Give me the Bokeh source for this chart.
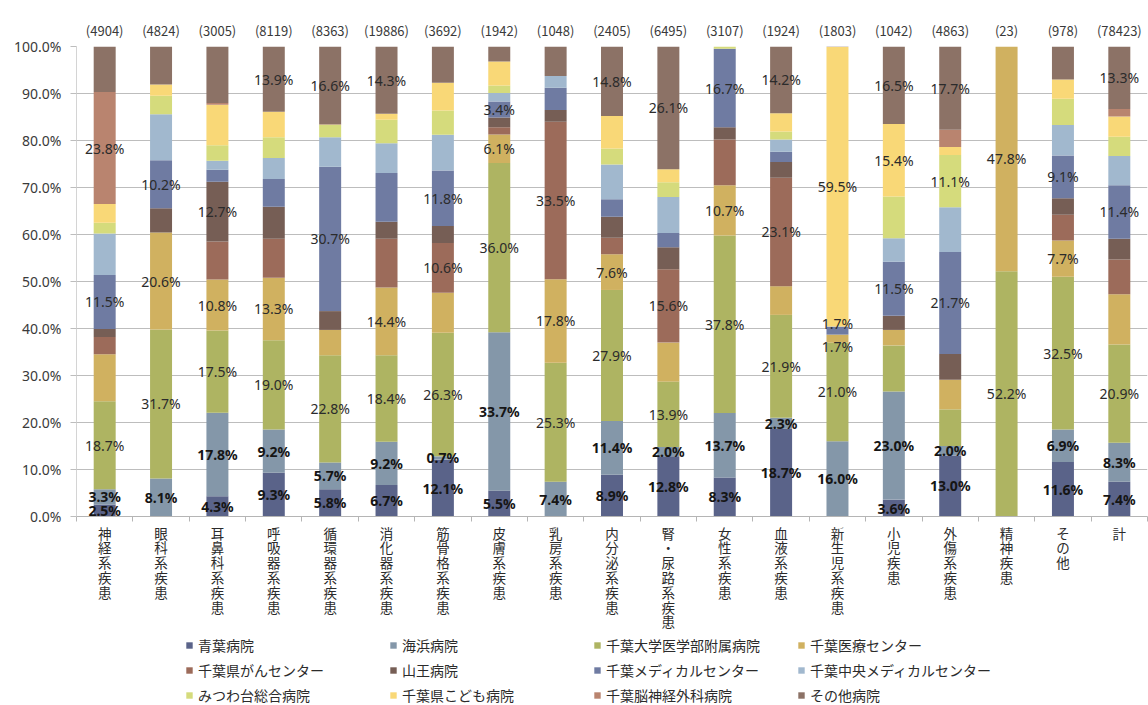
from bokeh.plotting import figure
from bokeh.layouts import column
from bokeh.models import (ColumnDataSource, Legend, LegendItem, FixedTicker, LinearAxis,
                          PrintfTickFormatter, Range1d)
from bokeh.core.properties import value
from bokeh.embed import file_html
from bokeh.resources import INLINE

# ---------------- data ----------------
categories = ["神経系疾患", "眼科系疾患", "耳鼻科系疾患", "呼吸器系疾患", "循環器系疾患",
              "消化器系疾患", "筋骨格系疾患", "皮膚系疾患", "乳房系疾患", "内分泌系疾患",
              "腎・尿路系疾患", "女性系疾患", "血液系疾患", "新生児系疾患", "小児疾患",
              "外傷系疾患", "精神疾患", "その他", "計"]
counts = [4904, 4824, 3005, 8119, 8363, 19886, 3692, 1942, 1048, 2405,
          6495, 3107, 1924, 1803, 1042, 4863, 23, 978, 78423]

hospitals = ["青葉病院", "海浜病院", "千葉大学医学部附属病院", "千葉医療センター",
             "千葉県がんセンター", "山王病院", "千葉メディカルセンター", "千葉中央メディカルセンター",
             "みつわ台総合病院", "千葉県こども病院", "千葉脳神経外科病院", "その他病院"]
colors = ["#5a6389", "#8497a9", "#aeb462", "#d0b160", "#9c6b5a", "#765e55",
          "#6f7ba2", "#a1b8ce", "#d5db7c", "#f9d877", "#b9846f", "#8c7266"]

aoba    = [2.5, 0.0, 4.3, 9.3, 5.8, 6.7, 12.1, 5.5, 0.0, 8.9, 12.8, 8.3, 18.7, 0.0, 3.6, 13.0, 0.0, 11.6, 7.4]
kaihin  = [3.3, 8.1, 17.8, 9.2, 5.7, 9.2, 0.7, 33.7, 7.4, 11.4, 2.0, 13.7, 2.3, 16.0, 23.0, 2.0, 0.0, 6.9, 8.3]
chibadai = [18.7, 31.7, 17.5, 19.0, 22.8, 18.4, 26.3, 36.0, 25.3, 27.9, 13.9, 37.8, 21.9, 21.0, 9.8, 7.8, 52.2, 32.5, 20.9]
iryo    = [10.0, 20.6, 10.8, 13.3, 5.4, 14.4, 8.5, 6.1, 17.8, 7.6, 8.3, 10.7, 6.1, 1.7, 3.3, 6.3, 47.8, 7.7, 10.7]
gan     = [3.7, 0.0, 8.1, 8.3, 0.0, 10.4, 10.6, 1.5, 33.5, 3.5, 15.6, 9.7, 23.1, 0.0, 0.0, 0.0, 0.0, 5.5, 7.4]
sanno   = [1.7, 5.2, 12.7, 6.8, 4.0, 3.6, 3.6, 2.1, 2.5, 4.5, 4.7, 2.6, 3.3, 0.0, 3.0, 5.5, 0.0, 3.5, 4.4]
medical = [11.5, 10.2, 2.6, 5.9, 30.7, 10.4, 11.8, 3.4, 4.7, 3.7, 3.0, 16.7, 2.2, 1.7, 11.5, 21.7, 0.0, 9.1, 11.4]
chuo    = [8.8, 9.8, 1.9, 4.5, 6.3, 6.3, 7.6, 1.8, 2.5, 7.4, 7.7, 0.0, 2.6, 0.0, 5.0, 9.5, 0.0, 6.5, 6.2]
mitsuwa = [2.3, 3.9, 3.3, 4.4, 2.6, 5.0, 5.2, 1.6, 0.0, 3.4, 3.1, 0.5, 1.7, 0.0, 8.9, 11.1, 0.0, 5.6, 4.1]
kodomo  = [4.0, 2.4, 8.6, 5.4, 0.1, 1.3, 5.9, 5.1, 0.0, 6.9, 2.8, 0.0, 3.9, 59.5, 15.4, 1.7, 0.0, 4.1, 4.3]
nou     = [23.8, 0.0, 0.4, 0.0, 0.0, 0.0, 0.0, 0.0, 0.0, 0.0, 0.0, 0.0, 0.0, 0.0, 0.0, 3.7, 0.0, 0.0, 1.6]
sonota  = [9.7, 8.1, 12.0, 13.9, 16.6, 14.3, 7.7, 3.2, 6.3, 14.8, 26.1, 0.0, 14.2, 0.1, 16.5, 17.7, 0.0, 7.0, 13.3]

# which segments carry a data label (1 = labelled)
show_aoba    = [1, 0, 1, 1, 1, 1, 1, 1, 0, 1, 1, 1, 1, 0, 1, 1, 0, 1, 1]
show_kaihin  = [1, 1, 1, 1, 1, 1, 1, 1, 1, 1, 1, 1, 1, 1, 1, 1, 0, 1, 1]
show_chibadai = [1, 1, 1, 1, 1, 1, 1, 1, 1, 1, 1, 1, 1, 1, 0, 0, 1, 1, 1]
show_iryo    = [0, 1, 1, 1, 0, 1, 0, 1, 1, 1, 0, 1, 0, 1, 0, 0, 1, 1, 0]
show_gan     = [0, 0, 0, 0, 0, 0, 1, 0, 1, 0, 1, 0, 1, 0, 0, 0, 0, 0, 0]
show_sanno   = [0, 0, 1, 0, 0, 0, 0, 0, 0, 0, 0, 0, 0, 0, 0, 0, 0, 0, 0]
show_medical = [1, 1, 0, 0, 1, 0, 1, 1, 0, 0, 0, 1, 0, 1, 1, 1, 0, 1, 1]
show_chuo    = [0] * 19
show_mitsuwa = [0, 0, 0, 0, 0, 0, 0, 0, 0, 0, 0, 0, 0, 0, 0, 1, 0, 0, 0]
show_kodomo  = [0, 0, 0, 0, 0, 0, 0, 0, 0, 0, 0, 0, 0, 1, 1, 0, 0, 0, 0]
show_nou     = [1, 0, 0, 0, 0, 0, 0, 0, 0, 0, 0, 0, 0, 0, 0, 0, 0, 0, 0]
show_sonota  = [0, 0, 0, 1, 1, 1, 0, 0, 0, 1, 1, 0, 1, 0, 1, 1, 0, 0, 1]

series = [aoba, kaihin, chibadai, iryo, gan, sanno, medical, chuo, mitsuwa, kodomo, nou, sonota]
shows = [show_aoba, show_kaihin, show_chibadai, show_iryo, show_gan, show_sanno,
         show_medical, show_chuo, show_mitsuwa, show_kodomo, show_nou, show_sonota]
bold_series = {"青葉病院", "海浜病院"}

# ---------------- build ----------------
n = len(categories)
xs = list(range(n))
totals = [sum(s[i] for s in series) for i in range(n)]
keys = ["s%d" % k for k in range(len(series))]
data = {"x": xs}
for key, s in zip(keys, series):
    data[key] = [s[i] / totals[i] * 100.0 for i in range(n)]
src = ColumnDataSource(data)

JP = "Noto Sans CJK JP"

p = figure(width=1148, height=634, output_backend="svg", toolbar_location=None,
           x_range=Range1d(-0.5, n - 0.5), y_range=Range1d(0, 100),
           min_border_left=76, min_border_right=1, min_border_top=46, min_border_bottom=117)
p.outline_line_color = None
p.background_fill_color = "white"
p.border_fill_color = "white"

renderers = p.vbar_stack(keys, x="x", width=0.39, source=src,
                         fill_color=colors, line_color=None)

# data labels (centred in their segment)
lab = {"n": {"x": [], "y": [], "t": []}, "b": {"x": [], "y": [], "t": []}}
for i in range(n):
    base = 0.0
    items = []
    for k, s in enumerate(series):
        h = data[keys[k]][i]
        if shows[k][i] and s[i] > 0:
            items.append([base + h / 2.0, "%.1f%%" % s[i], hospitals[k] in bold_series])
        base += h
    # spread labels that would sit on top of each other
    for j in range(1, len(items)):
        gap = items[j][0] - items[j - 1][0]
        if gap < 2.5:
            mid = (items[j][0] + items[j - 1][0]) / 2.0
            items[j - 1][0] = mid - 2.45
            items[j][0] = mid + 2.45
    for yy, tt, bb in items:
        d = lab["b" if bb else "n"]
        d["x"].append(i)
        d["y"].append(yy)
        d["t"].append(tt)

p.text(x="x", y="y", text="t", source=ColumnDataSource(lab["n"]),
       text_font=value("Noto Sans"), text_font_size="14px", text_color="#2b2b2b",
       text_align="center", text_baseline="middle")
p.text(x="x", y="y", text="t", source=ColumnDataSource(lab["b"]),
       text_font=value("Noto Sans"), text_font_size="14px", text_color="#151515",
       text_font_style="bold", text_align="center", text_baseline="middle")

# grid
p.xgrid.grid_line_color = None
p.ygrid.grid_line_color = "#bdbdbd"
p.ygrid.grid_line_width = 1

# y axis
p.yaxis.ticker = FixedTicker(ticks=list(range(0, 101, 10)))
p.yaxis.formatter = PrintfTickFormatter(format="%.1f%%")
p.yaxis.axis_line_color = "#d4d4d4"
p.yaxis.major_tick_line_color = "#bdbdbd"
p.yaxis.major_tick_out = 6
p.yaxis.major_tick_in = 0
p.yaxis.minor_tick_line_color = None
p.yaxis.major_label_standoff = 9
p.yaxis.major_label_text_font = "Noto Sans"
p.yaxis.major_label_text_font_size = "14px"
p.yaxis.major_label_text_color = "#3a3a3a"

# x axis: ticks at category boundaries, vertical (stacked) labels
p.xaxis.ticker = FixedTicker(ticks=xs, minor_ticks=[i - 0.5 for i in range(n + 1)])
p.xaxis.major_label_overrides = {i: "\n".join(c) for i, c in enumerate(categories)}
p.xaxis.axis_line_color = "#b5b5b5"
p.xaxis.major_tick_line_color = None
p.xaxis.major_tick_out = 0
p.xaxis.major_tick_in = 0
p.xaxis.minor_tick_line_color = "#b5b5b5"
p.xaxis.minor_tick_out = 5
p.xaxis.minor_tick_in = 0
p.xaxis.major_label_standoff = 1
p.xaxis.major_label_text_font = JP
p.xaxis.major_label_text_font_size = "13.5px"
p.xaxis.major_label_text_line_height = 0.74
p.xaxis.major_label_text_color = "#2b2b2b"

# counts above bars
top = LinearAxis(ticker=FixedTicker(ticks=xs),
                 major_label_overrides={i: "(%d)" % c for i, c in enumerate(counts)})
top.axis_line_color = None
top.major_tick_line_color = None
top.major_tick_out = 0
top.minor_tick_line_color = None
top.minor_tick_out = 0
top.major_label_standoff = 7
top.major_label_text_font = JP
top.major_label_text_font_size = "13px"
top.major_label_text_color = "#3a3a3a"
p.add_layout(top, "above")

# legend in its own strip below the chart (hidden copies of the stacked renderers)
pl = figure(width=1148, height=71, output_backend="svg", toolbar_location=None,
            x_range=Range1d(-0.5, n - 0.5), y_range=Range1d(0, 100),
            x_axis_location=None, y_axis_location=None,
            min_border_left=76, min_border_right=1, min_border_top=0, min_border_bottom=0)
pl.grid.visible = False
pl.outline_line_color = None
pl.background_fill_color = "white"
pl.border_fill_color = "white"
lrs = pl.vbar_stack(keys, x="x", width=0.39, source=src, fill_color=colors, line_color=None)
for r in lrs:
    r.visible = False
legend = Legend(items=[LegendItem(label=h, renderers=[r]) for h, r in zip(hospitals, lrs)],
                location=(109, 0), orientation="horizontal", ncols=4, click_policy="none",
                label_text_font=JP, label_text_font_size="14px", label_text_color="#2b2b2b",
                glyph_width=8, glyph_height=8, label_standoff=5, spacing=5,
                padding=0, margin=0, border_line_color=None, background_fill_alpha=0,
                label_width=186, label_height=18)
pl.add_layout(legend, "center")

open("out.html", "w").write(file_html(column(p, pl, spacing=0), INLINE))
